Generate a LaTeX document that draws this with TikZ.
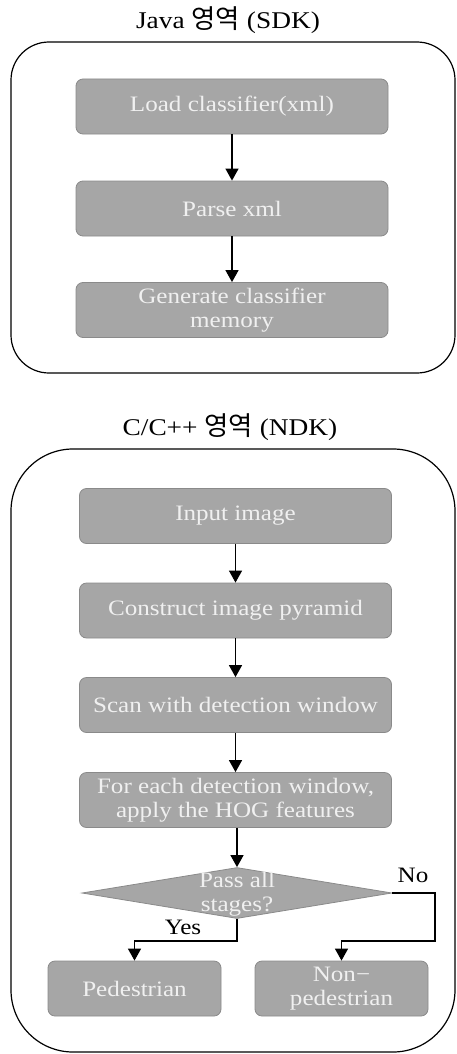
\documentclass[tikz,border=0pt]{standalone}
\usepackage{fontspec}
\setmainfont{Liberation Serif}[FakeStretch=1.14]
\newfontfamily\kr{Noto Sans CJK KR}[Scale=1.1]
\usetikzlibrary{arrows.meta,shapes.geometric}
\definecolor{boxfill}{RGB}{166,166,166}
\definecolor{boxline}{RGB}{138,138,138}
\definecolor{boxtext}{RGB}{240,240,240}
\begin{document}
\begin{tikzpicture}[x=1pt,y=-1pt,
  txt/.style={font=\fontsize{22}{24}\selectfont},
  stepbox/.style={txt, draw=boxline, fill=boxfill, rounded corners=7pt, text=boxtext,
    align=center, inner sep=0pt, line width=0.8pt, minimum height=55pt},
  wide/.style={minimum width=312pt},
  small/.style={minimum width=173pt},
  frame/.style={draw=black, line width=1.2pt},
  arr/.style={-{Triangle[width=13pt,length=12pt]}, line width=1.3pt},
  lbl/.style={txt, text=black, inner sep=0pt},
  ttl/.style={font=\fontsize{24}{26}\selectfont, text=black, inner sep=0pt}]
\useasboundingbox (0,0) rectangle (456,1054);
% frames
\draw[frame, rounded corners=38pt] (11,42) rectangle (455,373);
\draw[frame, rounded corners=62pt] (11,449) rectangle (455,1052);
% titles
\node[ttl] (t1) at (228,20) {Java {\kr 영역} (SDK)};
\node[ttl] (t2) at (230,427) {C/C++ {\kr 영역} (NDK)};
% SDK
\node[stepbox, wide] (load) at (232,106.5) {Load classifier(xml)};
\node[stepbox, wide] (parse) at (232,208.5) {Parse xml};
\node[stepbox, wide] (gen) at (232,310) {Generate classifier\\memory};
\draw[arr] (load) -- (parse);
\draw[arr] (parse) -- (gen);
% NDK
\node[stepbox, wide] (input) at (235.5,516) {Input image};
\node[stepbox, wide] (pyr) at (235.5,610.5) {Construct image pyramid};
\node[stepbox, wide] (scan) at (235.5,705) {Scan with detection window};
\node[stepbox, wide] (hog) at (235.5,800) {For each detection window,\\apply the HOG features};
\node[diamond, draw=boxline, fill=boxfill, line width=0.8pt, inner sep=0pt,
  minimum width=310pt, minimum height=51pt] (dec) at (237,893) {};
\node[txt, text=boxtext, align=center, inner sep=0pt] (dectext) at (237,894) {Pass all\\stages?};
\node[stepbox, small] (ped) at (134.5,988.5) {Pedestrian};
\node[stepbox, small] (nonped) at (341.5,988.5) {Non−\\pedestrian};
\draw[arr] (input) -- (pyr);
\draw[arr] (pyr) -- (scan);
\draw[arr] (scan) -- (hog);
\draw[arr] (hog.south -| dec.north) -- (dec.north);
\coordinate (nc) at (435,941);
\draw[arr] (dec.south) -- ++(0,22) -| (ped.north);
\draw[arr] (dec.east) -| (nc) -| (nonped.north);
\node[lbl] (yes) at (183,927) {Yes};
\node[lbl] (no) at (413,875) {No};
\end{tikzpicture}
\end{document}
